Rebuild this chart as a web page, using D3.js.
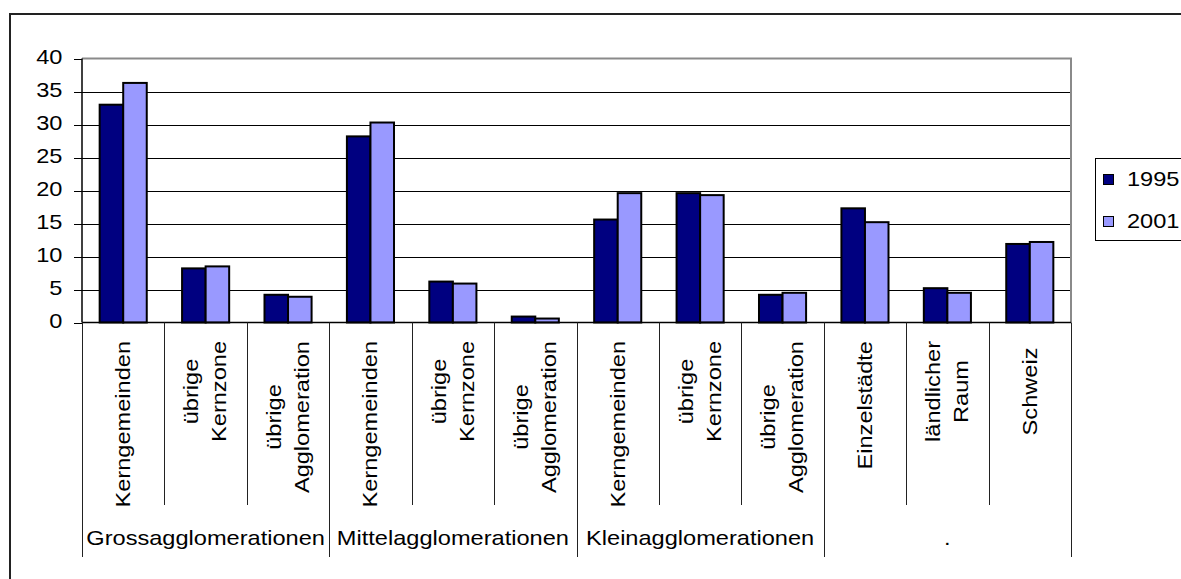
<!DOCTYPE html>
<html>
<head>
<meta charset="utf-8">
<script src="https://cdn.jsdelivr.net/npm/d3@7"></script>
<style>
  html, body { margin: 0; padding: 0; background: #fff; }
  svg { display: block; font-family: "Liberation Sans", Arial, sans-serif; }
  text { white-space: pre; }
</style>
</head>
<body>
<svg id="chart" width="1181" height="579"></svg>
<script>
// Category labels (one entry per line), grouped by agglomeration type
const categoryLabels = [
  ["Kerngemeinden"], ["übrige", "Kernzone"], ["übrige", "Agglomeration"],
  ["Kerngemeinden"], ["übrige", "Kernzone"], ["übrige", "Agglomeration"],
  ["Kerngemeinden"], ["übrige", "Kernzone"], ["übrige", "Agglomeration"],
  ["Einzelstädte"], ["ländlicher", "Raum"], ["Schweiz "]
];
const groupNames = ["Grossagglomerationen", "Mittelagglomerationen", "Kleinagglomerationen", "."];
const groupSizes = [3, 3, 3, 3];
const seriesNames = ["1995", "2001"];
const values1995 = [33.0, 8.2, 4.2, 28.2, 6.2, 0.9, 15.6, 19.6, 4.2, 17.3, 5.2, 11.9];
const values2001 = [36.3, 8.5, 3.9, 30.3, 5.9, 0.6, 19.6, 19.3, 4.5, 15.2, 4.5, 12.2];
const yTicks = [0, 5, 10, 15, 20, 25, 30, 35, 40];
const seriesColors = ["#000080", "#9999FF"];

const svg = d3.select("#chart");
const STRETCH = 1.18;   // horizontal glyph stretch of the chart's font
const FS = 20;

const plot = { left: 82, right: 1071, top: 58.5, bottom: 322.5 };

// Chart area frame
svg.append("rect")
  .attr("x", 10).attr("y", 14)
  .attr("width", 1200).attr("height", 600)
  .attr("fill", "none").attr("stroke", "#222").attr("stroke-width", 2);

const x = d3.scaleBand()
  .domain(d3.range(categoryLabels.length))
  .range([plot.left, plot.right])
  .paddingInner(0).paddingOuter(0);

const xSeries = d3.scaleBand()
  .domain(seriesNames)
  .range([0, x.bandwidth()])
  .paddingInner(0).paddingOuter(0.75);

const y = d3.scaleLinear().domain([0, 40]).range([plot.bottom, plot.top]);

// Horizontal gridlines
svg.append("g")
  .selectAll("line")
  .data(yTicks.filter(t => t > 0 && t < 40))
  .join("line")
  .attr("x1", plot.left).attr("x2", plot.right)
  .attr("y1", d => Math.round(y(d)) + 0.5).attr("y2", d => Math.round(y(d)) + 0.5)
  .attr("stroke", "#000").attr("stroke-width", 1);

// Plot area border (top and right)
svg.append("path")
  .attr("d", `M${plot.left},${plot.top}H${plot.right}V${plot.bottom}`)
  .attr("fill", "none").attr("stroke", "#8a8a8a").attr("stroke-width", 2);

// Bars
const seriesData = [values1995, values2001];
seriesNames.forEach((name, si) => {
  svg.append("g")
    .selectAll("rect")
    .data(seriesData[si])
    .join("rect")
    .attr("x", (d, i) => x(i) + xSeries(name))
    .attr("y", d => y(d))
    .attr("width", xSeries.bandwidth())
    .attr("height", d => y(0) - y(d))
    .attr("fill", seriesColors[si])
    .attr("stroke", "#000").attr("stroke-width", 2);
});

// Y axis
const yAxis = svg.append("g");
yAxis.append("line")
  .attr("x1", plot.left).attr("x2", plot.left)
  .attr("y1", plot.top).attr("y2", plot.bottom)
  .attr("stroke", "#000").attr("stroke-width", 1.5);
yAxis.selectAll("line.tick")
  .data(yTicks)
  .join("line")
  .attr("class", "tick")
  .attr("x1", plot.left - 8).attr("x2", plot.left)
  .attr("y1", d => Math.round(y(d)) + 0.5).attr("y2", d => Math.round(y(d)) + 0.5)
  .attr("stroke", "#000").attr("stroke-width", 1);
yAxis.selectAll("text")
  .data(yTicks)
  .join("text")
  .attr("transform", d => `translate(62.5,${y(d) + 5}) scale(${STRETCH},1)`)
  .attr("text-anchor", "end")
  .attr("font-size", FS)
  .attr("fill", "#000")
  .text(d => d);

// X axis line
svg.append("line")
  .attr("x1", plot.left).attr("x2", plot.right)
  .attr("y1", plot.bottom).attr("y2", plot.bottom)
  .attr("stroke", "#000").attr("stroke-width", 1.5);

// Category dividers: short ones between categories, long ones at group edges
const groupEdges = new Set();
let acc = 0;
groupEdges.add(0);
groupSizes.forEach(s => { acc += s; groupEdges.add(acc); });
const boundaries = d3.range(categoryLabels.length + 1);
svg.append("g")
  .selectAll("line")
  .data(boundaries)
  .join("line")
  .attr("x1", d => Math.round(plot.left + d * x.step()) + 0.5)
  .attr("x2", d => Math.round(plot.left + d * x.step()) + 0.5)
  .attr("y1", plot.bottom)
  .attr("y2", d => groupEdges.has(d) ? 557 : 505)
  .attr("stroke", "#222").attr("stroke-width", 1);

// Rotated category labels, lines centred within a top-aligned block
const labelTop = 341;
const lineGap = 28;
categoryLabels.forEach((lines, i) => {
  const cx = x(i) + x.bandwidth() / 2;
  const g = svg.append("g")
    .attr("transform", `translate(${cx},${labelTop}) rotate(-90) scale(${STRETCH},1)`);
  const texts = g.selectAll("text")
    .data(lines)
    .join("text")
    .attr("font-size", FS)
    .attr("fill", "#000")
    .attr("dominant-baseline", "central")
    .attr("text-anchor", "middle")
    .attr("y", (d, k) => (k - (lines.length - 1) / 2) * lineGap)
    .text(d => d);
  const maxLen = d3.max(texts.nodes(), n => n.getComputedTextLength());
  texts.attr("x", -maxLen / 2);
});

// Group labels
let start = 0;
groupNames.forEach((name, gi) => {
  const x0 = plot.left + start * x.step();
  const x1 = plot.left + (start + groupSizes[gi]) * x.step();
  svg.append("text")
    .attr("transform", `translate(${(x0 + x1) / 2},545) scale(${STRETCH},1)`)
    .attr("text-anchor", "middle")
    .attr("font-size", FS)
    .attr("fill", "#000")
    .text(name);
  start += groupSizes[gi];
});

// Legend
const legend = svg.append("g");
legend.append("rect")
  .attr("x", 1095.5).attr("y", 158.5)
  .attr("width", 120).attr("height", 82)
  .attr("fill", "#fff").attr("stroke", "#000").attr("stroke-width", 1);
seriesNames.forEach((name, si) => {
  const yy = 174 + si * 42;
  legend.append("rect")
    .attr("x", 1103.5).attr("y", yy + 0.5)
    .attr("width", 10).attr("height", 10)
    .attr("fill", seriesColors[si]).attr("stroke", "#000").attr("stroke-width", 1);
  legend.append("text")
    .attr("transform", `translate(1127,${yy + 12}) scale(${STRETCH},1)`)
    .attr("font-size", FS)
    .attr("fill", "#000")
    .text(name);
});
</script>
</body>
</html>
